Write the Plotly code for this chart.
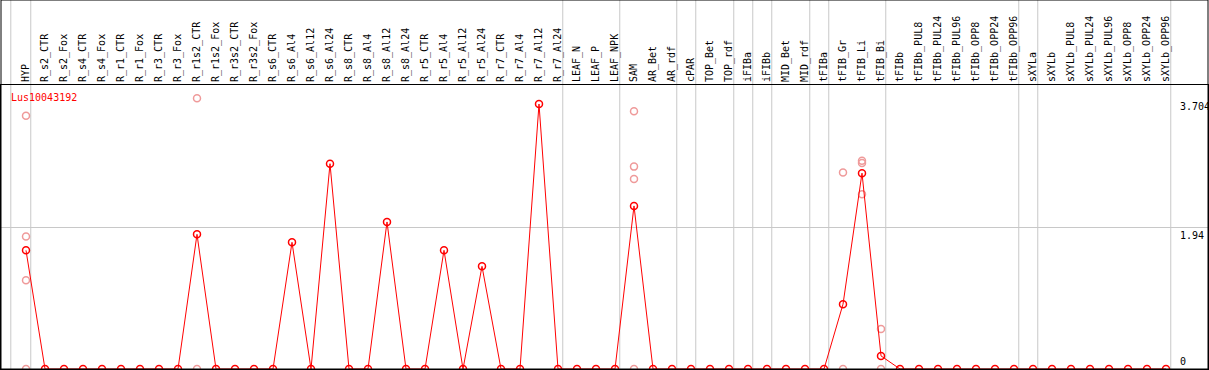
import plotly.graph_objects as go

categories = ["HYP", "R_s2_CTR", "R_s2_Fox", "R_s4_CTR", "R_s4_Fox", "R_r1_CTR", "R_r1_Fox",
              "R_r3_CTR", "R_r3_Fox", "R_r1s2_CTR", "R_r1s2_Fox", "R_r3s2_CTR", "R_r3s2_Fox",
              "R_s6_CTR", "R_s6_Al4", "R_s6_Al12", "R_s6_Al24", "R_s8_CTR", "R_s8_Al4",
              "R_s8_Al12", "R_s8_Al24", "R_r5_CTR", "R_r5_Al4", "R_r5_Al12", "R_r5_Al24",
              "R_r7_CTR", "R_r7_Al4", "R_r7_Al12", "R_r7_Al24", "LEAF_N", "LEAF_P", "LEAF_NPK",
              "SAM", "AR_Bet", "AR_rdf", "cPAR", "TOP_Bet", "TOP_rdf", "iFIBa", "iFIBb",
              "MID_Bet", "MID_rdf", "tFIBa", "tFIB_Gr", "tFIB_Li", "tFIB_Bi", "tFIBb",
              "tFIBb_PUL8", "tFIBb_PUL24", "tFIBb_PUL96", "tFIBb_OPP8", "tFIBb_OPP24",
              "tFIBb_OPP96", "sXYLa", "sXYLb", "sXYLb_PUL8", "sXYLb_PUL24", "sXYLb_PUL96",
              "sXYLb_OPP8", "sXYLb_OPP24", "sXYLb_OPP96"]

mean_values = [1.63, 0, 0, 0, 0, 0, 0, 0, 0, 1.85, 0, 0, 0, 0, 1.74, 0, 2.82, 0, 0, 2.02, 0,
               0, 1.63, 0, 1.41, 0, 0, 3.64, 0, 0, 0, 0, 2.24, 0, 0, 0, 0, 0, 0, 0, 0, 0, 0,
               0.89, 2.69, 0.18, 0, 0, 0, 0, 0, 0, 0, 0, 0, 0, 0, 0, 0, 0, 0]

rep_names = ["HYP", "HYP", "HYP", "HYP", "R_r1s2_CTR", "R_r1s2_CTR", "SAM", "SAM", "SAM", "SAM",
             "tFIB_Gr", "tFIB_Gr", "tFIB_Li", "tFIB_Li", "tFIB_Li", "tFIB_Bi", "tFIB_Bi"]
rep_values = [3.48, 1.82, 1.22, 0, 3.72, 0, 3.54, 2.78, 2.61, 0,
              2.70, 0, 2.86, 2.83, 2.40, 0.55, 0]

group_sizes = [1, 28, 3, 3, 1, 2, 1, 1, 2, 1, 3, 7, 1, 7]

y_tick_values = [0, 1.94, 3.704]
y_tick_labels = ["0", "1.94", "3.704"]
gene = "Lus10043192"

W, H = 1209, 370
ML, MR, MT, MB = 1, 1, 85, 1
PW = W - ML - MR
PH = H - MT - MB
x0px, step = 26, 19
xr = [(ML - x0px) / step, (ML + PW - x0px) / step]
yr = [0, PH / 72.8]

idx = {c: i for i, c in enumerate(categories)}
xs = list(range(len(categories)))

fig = go.Figure()
fig.add_trace(go.Scatter(
    x=[idx[n] for n in rep_names], y=rep_values, mode="markers",
    marker=dict(symbol="circle-open", size=7, color="#ef9a9a", line=dict(width=1.5, color="#ef9a9a")),
    showlegend=False, hoverinfo="skip"))
fig.add_trace(go.Scatter(
    x=xs, y=mean_values, mode="lines+markers",
    line=dict(color="#ff0000", width=1),
    marker=dict(symbol="circle-open", size=7, color="#ff0000", line=dict(width=1.5, color="#ff0000")),
    showlegend=False))

ytop_paper = (PH + MT) / PH
shapes = []
bounds = [-0.8]
c = -1
for g in group_sizes:
    c += g
    bounds.append(c + 0.25)
for b in bounds:
    shapes.append(dict(type="line", xref="x", yref="paper", x0=b, x1=b, y0=0, y1=ytop_paper,
                       line=dict(color="#c8c8c8", width=1), layer="below"))
shapes.append(dict(type="rect", xref="paper", yref="paper", x0=0, x1=1, y0=0, y1=ytop_paper,
                   line=dict(color="black", width=1)))

annotations = []
for v, t in zip(y_tick_values, y_tick_labels):
    annotations.append(dict(xref="paper", yref="y", x=(1178 - ML) / PW, y=v, text=t,
                            xanchor="left", yanchor="bottom" if v == 0 else "top",
                            showarrow=False, font=dict(family="DejaVu Sans Mono", size=10, color="black")))
annotations.append(dict(xref="paper", yref="paper", x=(9 - ML) / PW, y=(PH + MT - 97) / PH,
                        text=gene, xanchor="left", yanchor="middle", showarrow=False,
                        font=dict(family="DejaVu Sans Mono", size=10, color="#ff0000")))

fig.update_layout(
    width=W, height=H, margin=dict(l=ML, r=MR, t=MT, b=MB, pad=0),
    paper_bgcolor="white", plot_bgcolor="white",
    shapes=shapes, annotations=annotations,
    xaxis=dict(range=xr, side="top", tickmode="array", tickvals=xs, ticktext=categories,
               tickangle=-90, ticks="", showgrid=False, zeroline=False,
               showline=True, linecolor="black", linewidth=1, mirror=True,
               tickfont=dict(family="DejaVu Sans Mono", size=10, color="black")),
    yaxis=dict(range=yr, tickmode="array", tickvals=[1.94], showticklabels=False,
               showgrid=True, gridcolor="#c8c8c8", gridwidth=1, zeroline=False,
               showline=True, linecolor="black", linewidth=1, mirror=True, ticks=""),
)

fig.write_html("out.html", config={"displayModeBar": False},
               post_script="document.body.style.margin='0';document.body.style.padding='0';")
